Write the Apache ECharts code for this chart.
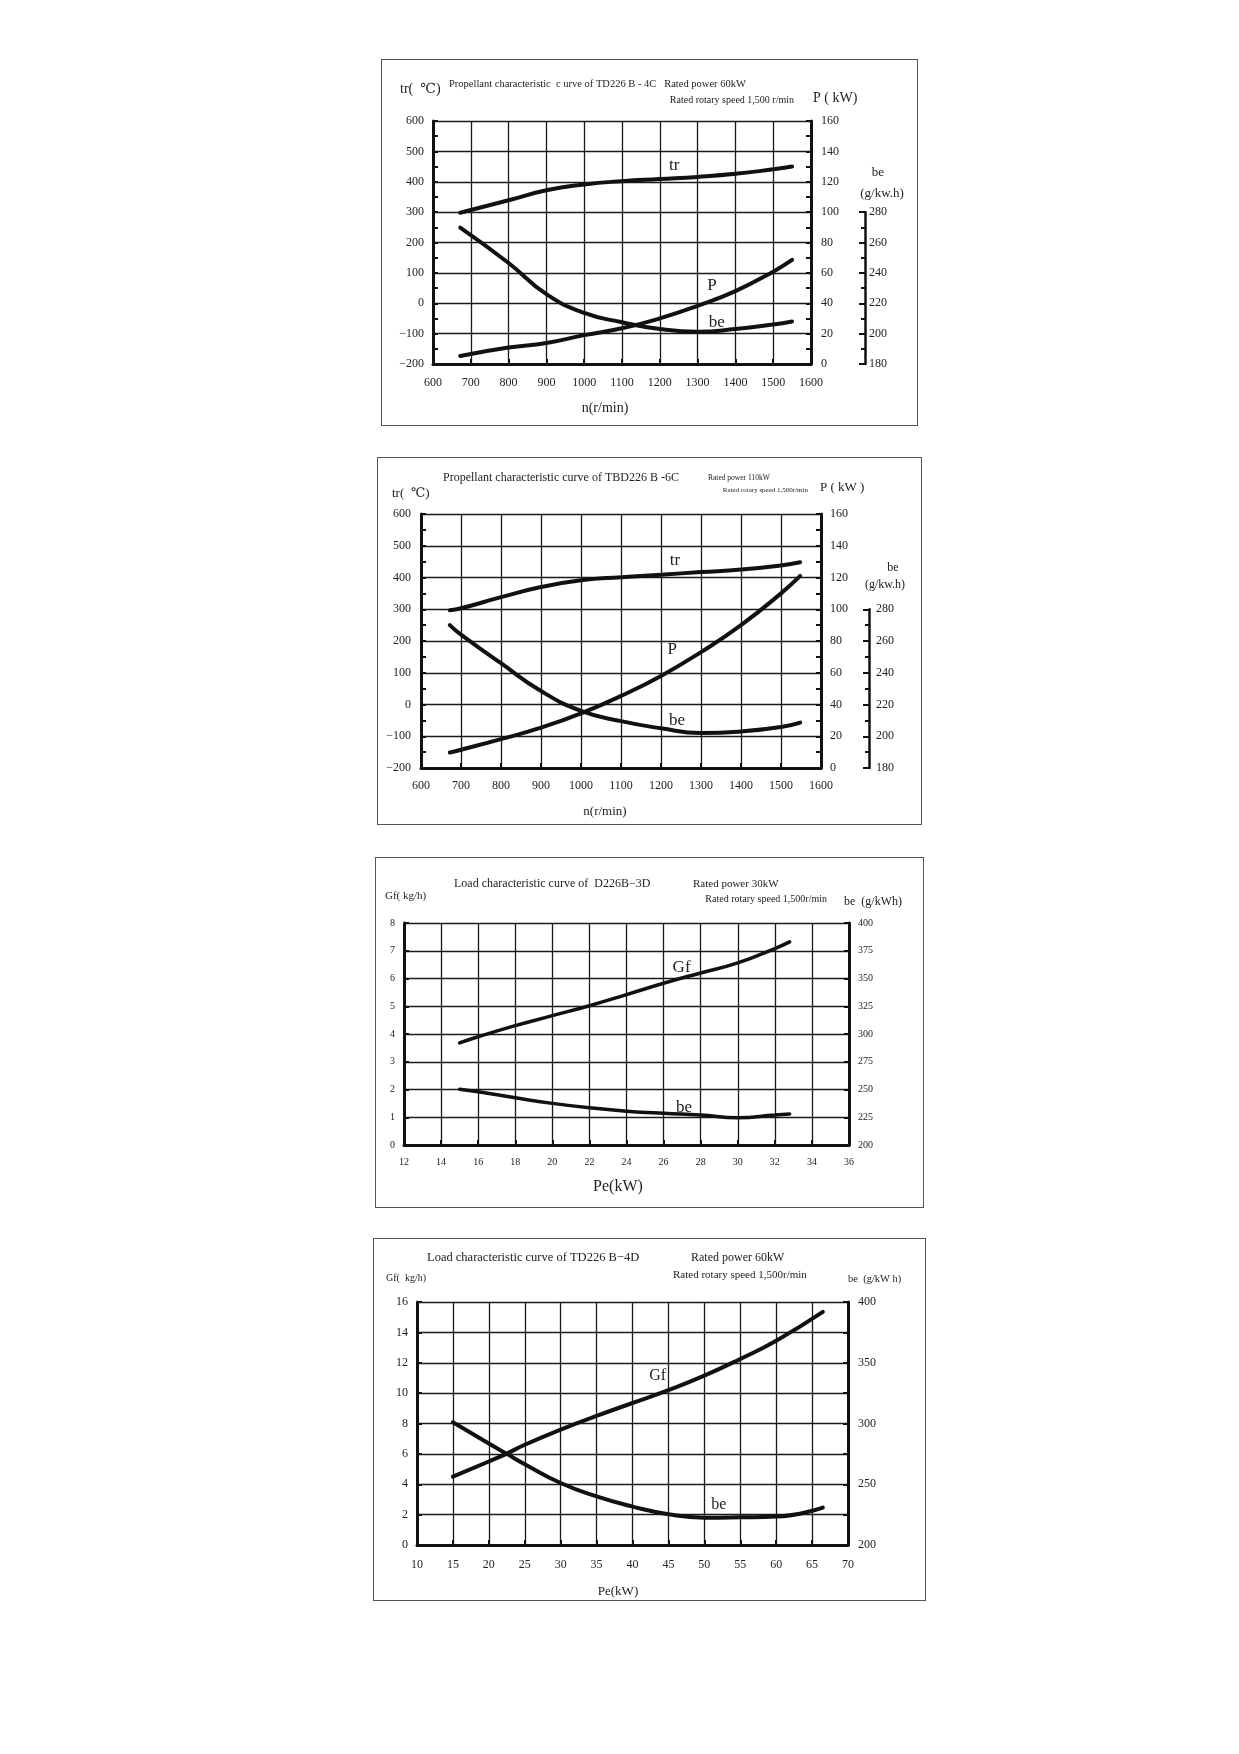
<!DOCTYPE html>
<html>
<head>
<meta charset="utf-8">
<title>Engine characteristic curves</title>
<script src="https://cdn.jsdelivr.net/npm/echarts@6/dist/echarts.min.js"></script>
<style>
body{margin:0;background:#fff;width:1239px;height:1754px;position:relative;}
.box{position:absolute;border:1px solid #555;box-sizing:border-box;}
</style>
</head>
<body>
<div id="c1" class="box" style="left:381px;top:59px;width:537px;height:367px"></div>
<div id="c2" class="box" style="left:377px;top:457px;width:545px;height:368px"></div>
<div id="c3" class="box" style="left:375px;top:857px;width:549px;height:351px"></div>
<div id="c4" class="box" style="left:373px;top:1238px;width:553px;height:363px"></div>
<script>
var FONT = '"Liberation Serif","Times New Roman","DejaVu Serif",serif';

// TD226B-4C propellant curve
var c1Speed = [672, 800, 900, 1000, 1100, 1200, 1300, 1400, 1500, 1550];
var c1Tr    = [298, 339, 372, 391, 402, 409, 416, 426, 441, 450];
var c1Power = [5.3, 10.8, 13.8, 19, 23.5, 30, 38.3, 48, 60.8, 68.5];
var c1Be    = [269.8, 246.5, 226, 213.6, 207.5, 203, 201.2, 203, 206, 208];

// TBD226B-6C propellant curve
var c2Speed = [672, 700, 800, 900, 1000, 1100, 1200, 1300, 1400, 1500, 1548];
var c2Tr    = [297, 303, 338, 370, 391, 401, 409, 417, 425, 438, 448];
var c2Power = [9.8, 11.5, 18.2, 25.4, 34.4, 45.4, 58, 73, 90, 110, 121];
var c2Be    = [270, 264, 246, 228.5, 216, 209.5, 205, 202, 203, 205.8, 208.6];

// D226B-3D load curve
var c3Pe = [15, 16, 18, 20, 22, 24, 26, 28, 30, 32, 32.8];
var c3Gf = [3.68, 3.9, 4.3, 4.66, 5.02, 5.42, 5.83, 6.2, 6.56, 7.08, 7.32];
var c3Be = [250.3, 248, 242.5, 237.5, 233.5, 230.5, 228.5, 227, 224.6, 227, 228];

// TD226B-4D load curve
var c4Pe = [15, 20, 22.5, 25, 30, 35, 40, 45, 50, 55, 60, 66.5];
var c4Gf = [4.5, 5.5, 6.02, 6.6, 7.6, 8.5, 9.35, 10.2, 11.15, 12.25, 13.45, 15.35];
var c4Be = [301, 283.5, 275, 266.5, 251, 240, 231.6, 225.3, 222.5, 222.8, 223.4, 230.8];

function pairs(xs, ys){
  return xs.map(function(x, i){ return [x, ys[i]]; });
}
function minus(v){ return String(v).replace('-', '\u2212'); }

function txt(x, y, s, size, align){
  return {type:'text', x:x, y:y, silent:true,
    style:{text:s, font:size + 'px ' + FONT, fill:'#222',
      textAlign:align || 'left', textVerticalAlign:'middle'}};
}

function axis(o){
  return {
    type:'value', min:o.min, max:o.max, interval:o.interval,
    position:o.pos, gridIndex:o.grid || 0,
    axisLine:{show:true, onZero:false, lineStyle:{color:'#111', width:o.lw || 3}},
    axisTick:{show:true, inside:true, length:o.tick || 5, lineStyle:{color:'#111', width:2}},
    minorTick:{show:!!o.minor, splitNumber:2, length:o.minorLen || 5, lineStyle:{color:'#111', width:2}},
    splitLine:{show:!!o.split, lineStyle:{color:'#1a1a1a', width:1.3}},
    axisLabel:{color:'#222', fontFamily:FONT, fontSize:o.fs || 12, margin:o.margin || 10,
      formatter:o.fmt || minus}
  };
}

function curve(data, yIdx, name, coord, fs, lw){
  return {
    type:'line', name:name, data:data, yAxisIndex:yIdx, smooth:0.5,
    symbol:'none', silent:true,
    lineStyle:{color:'#111', width:lw || 4, cap:'round'},
    markPoint:{
      symbol:'circle', symbolSize:1, silent:true,
      itemStyle:{color:'rgba(0,0,0,0)'},
      label:{show:true, position:'inside', formatter:name, color:'#222',
        fontFamily:FONT, fontSize:fs || 17},
      data:[{coord:coord}]
    }
  };
}

// chart 1
var ch1 = echarts.init(document.getElementById('c1'));
var g1 = {left:51, top:61, width:378, height:243};
ch1.setOption({
  animation:false,
  grid:[g1, {left:479, width:4, top:g1.top + g1.height * 60 / 160, height:g1.height * 100 / 160}],
  xAxis:[
    axis({min:600, max:1600, interval:100, pos:'bottom', split:true, margin:13}),
    {type:'value', gridIndex:1, show:false, min:0, max:1}
  ],
  yAxis:[
    axis({min:-200, max:600, interval:100, pos:'left', split:true, minor:true, margin:9}),
    axis({min:0, max:160, interval:20, pos:'right', minor:true, margin:10}),
    {type:'value', min:180, max:340, show:false},
    axis({grid:1, min:180, max:280, interval:20, pos:'right', minor:true, tick:6, minorLen:4, margin:4, lw:2.5})
  ],
  graphic:[
    txt(67, 24, 'Propellant characteristic  c urve of TD226 B - 4C   Rated power 60kW', 10.5),
    txt(412, 40, 'Rated rotary speed 1,500 r/min', 10, 'right'),
    txt(18, 29, 'tr(  \u2103)', 14),
    txt(431, 38, 'P ( kW)', 14),
    txt(496, 113, 'be', 13, 'center'),
    txt(500, 134, '(g/kw.h)', 13, 'center'),
    txt(223, 348, 'n(r/min)', 14, 'center')
  ],
  series:[
    curve(pairs(c1Speed, c1Tr), 0, 'tr', [1238, 452]),
    curve(pairs(c1Speed, c1Power), 1, 'P', [1338, 51.4]),
    curve(pairs(c1Speed, c1Be), 2, 'be', [1351, 207])
  ]
});

// chart 2
var ch2 = echarts.init(document.getElementById('c2'));
var g2 = {left:43, top:56, width:400, height:254};
ch2.setOption({
  animation:false,
  grid:[g2, {left:487, width:4, top:g2.top + g2.height * 60 / 160, height:g2.height * 100 / 160}],
  xAxis:[
    axis({min:600, max:1600, interval:100, pos:'bottom', split:true, margin:12}),
    {type:'value', gridIndex:1, show:false, min:0, max:1}
  ],
  yAxis:[
    axis({min:-200, max:600, interval:100, pos:'left', split:true, minor:true, margin:10}),
    axis({min:0, max:160, interval:20, pos:'right', minor:true, margin:9}),
    {type:'value', min:180, max:340, show:false},
    axis({grid:1, min:180, max:280, interval:20, pos:'right', minor:true, tick:6, minorLen:4, margin:7, lw:2.5})
  ],
  graphic:[
    txt(65, 20, 'Propellant characteristic curve of TBD226 B -6C', 12),
    txt(330, 20, 'Rated power 110kW', 7.5),
    txt(430, 32, 'Rated rotary speed 1,500r/min', 7, 'right'),
    txt(14, 36, 'tr(  \u2103)', 13),
    txt(442, 30, 'P ( kW )', 13),
    txt(515, 110, 'be', 12, 'center'),
    txt(507, 127, '(g/kw.h)', 12, 'center'),
    txt(227, 354, 'n(r/min)', 13, 'center')
  ],
  series:[
    curve(pairs(c2Speed, c2Tr), 0, 'tr', [1235, 455]),
    curve(pairs(c2Speed, c2Power), 1, 'P', [1228, 74.4]),
    curve(pairs(c2Speed, c2Be), 2, 'be', [1240, 209.6])
  ]
});

// chart 3
var ch3 = echarts.init(document.getElementById('c3'));
ch3.setOption({
  animation:false,
  grid:{left:28, top:65, width:445, height:222},
  xAxis:axis({min:12, max:36, interval:2, pos:'bottom', split:true, fs:10, margin:12}),
  yAxis:[
    axis({min:0, max:8, interval:1, pos:'left', split:true, fs:10, margin:9}),
    axis({min:200, max:400, interval:25, pos:'right', fs:10, margin:9})
  ],
  graphic:[
    txt(78, 26, 'Load characteristic curve of  D226B\u22123D', 12),
    txt(317, 26, 'Rated power 30kW', 11),
    txt(451, 41, 'Rated rotary speed 1,500r/min', 10, 'right'),
    txt(9, 38, 'Gf( kg/h)', 11),
    txt(468, 44, 'be  (g/kWh)', 12),
    txt(242, 329, 'Pe(kW)', 16, 'center')
  ],
  series:[
    curve(pairs(c3Pe, c3Gf), 0, 'Gf', [26.97, 6.41], 17, 3.5),
    curve(pairs(c3Pe, c3Be), 1, 'be', [27.1, 233.6], 17, 3.5)
  ]
});

// chart 4
var ch4 = echarts.init(document.getElementById('c4'));
ch4.setOption({
  animation:false,
  grid:{left:43, top:63, width:431, height:243},
  xAxis:axis({min:10, max:70, interval:5, pos:'bottom', split:true, margin:14}),
  yAxis:[
    axis({min:0, max:16, interval:2, pos:'left', split:true, margin:9}),
    axis({min:200, max:400, interval:25, pos:'right', margin:10,
      fmt:function(v){ return v % 50 === 0 ? String(v) : ''; }})
  ],
  graphic:[
    txt(53, 19, 'Load characteristic curve of TD226 B\u22124D', 12.5),
    txt(317, 19, 'Rated power 60kW', 12),
    txt(299, 36, 'Rated rotary speed 1,500r/min', 11),
    txt(12, 39, 'Gf(  kg/h)', 10),
    txt(474, 40, 'be  (g/kW h)', 10.5),
    txt(244, 353, 'Pe(kW)', 13, 'center')
  ],
  series:[
    curve(pairs(c4Pe, c4Gf), 0, 'Gf', [43.5, 11.14], 16),
    curve(pairs(c4Pe, c4Be), 1, 'be', [52, 233.3], 16)
  ]
});
</script>
</body>
</html>
